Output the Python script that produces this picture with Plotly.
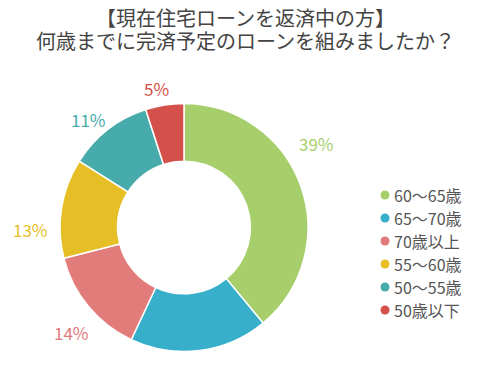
import math
import plotly.graph_objects as go

# ---- data ----
categories = ["60～65歳", "65～70歳", "70歳以上", "55～60歳", "50～55歳", "50歳以下"]
percentages = [39, 18, 14, 13, 11, 5]
title_lines = ["【現在住宅ローンを返済中の方】", "何歳までに完済予定のローンを組みましたか？"]

# ---- style ----
colors = ["#A6CF6B", "#37AECA", "#E17C7B", "#E6BF27", "#48ABAB", "#D3504B"]
label_nudge_deg = [-12.5, 0, -3.4, -9.6, -3.8, -2]
label_radius = [157, 152, 154, 154, 144, 142]
FONT = "Noto Sans CJK JP"
TITLE_FONT = "Lato, Noto Sans CJK JP"

W, H = 500, 370
CX, CY, R = 184, 227.5, 124  # screen pixels
HOLE = 0.535


def px2x(p):
    return p / W


def px2y(p):
    return 1 - p / H


fig = go.Figure(go.Pie(
    labels=categories, values=percentages, sort=False,
    direction="clockwise", rotation=0, hole=HOLE,
    marker=dict(colors=colors, line=dict(color="white", width=1.5)),
    textinfo="none", hoverinfo="label+percent", showlegend=False,
    domain=dict(x=[px2x(CX - R), px2x(CX + R)],
                y=[px2y(CY + R), px2y(CY - R)]),
))

# percentage labels outside the ring
total = sum(percentages)
cum = 0
for i, v in enumerate(percentages):
    mid = (cum + v / 2) / total * 360 + label_nudge_deg[i]
    cum += v
    r = label_radius[i]
    px = CX + r * math.sin(math.radians(mid))
    py = CY - r * math.cos(math.radians(mid))
    if py + 9 > H:  # falls off the canvas (hidden in original)
        continue
    fig.add_annotation(x=px2x(px), y=px2y(py), xref="paper", yref="paper",
                       text=f"{v}%", showarrow=False,
                       font=dict(size=17, color=colors[i], family=FONT),
                       xanchor="center", yanchor="middle")

# legend
LX, LY0, LDY = 385, 195, 23
for i, c in enumerate(categories):
    y = LY0 + LDY * i
    fig.add_shape(type="circle", xref="paper", yref="paper",
                  x0=px2x(LX - 4.5), x1=px2x(LX + 4.5),
                  y0=px2y(y + 4.5), y1=px2y(y - 4.5),
                  fillcolor=colors[i], line=dict(width=0))
    fig.add_annotation(x=px2x(LX + 7), y=px2y(y), xref="paper", yref="paper",
                       text=c, showarrow=False, xanchor="left", yanchor="middle",
                       font=dict(size=16, color="#555555", family=FONT))

# title (two lines)
for line, yc in zip(title_lines, [18, 41]):
    fig.add_annotation(x=px2x(245), y=px2y(yc), xref="paper", yref="paper",
                       text=line, showarrow=False,
                       xanchor="center", yanchor="middle", borderpad=0,
                       font=dict(size=20, color="#444444", family=TITLE_FONT))

fig.update_layout(width=W, height=H, margin=dict(l=0, r=0, t=0, b=0),
                  paper_bgcolor="white", plot_bgcolor="white",
                  font=dict(family=FONT))
fig.write_html("out.html", config={"displayModeBar": False},
               post_script="document.body.style.margin='0px';")
